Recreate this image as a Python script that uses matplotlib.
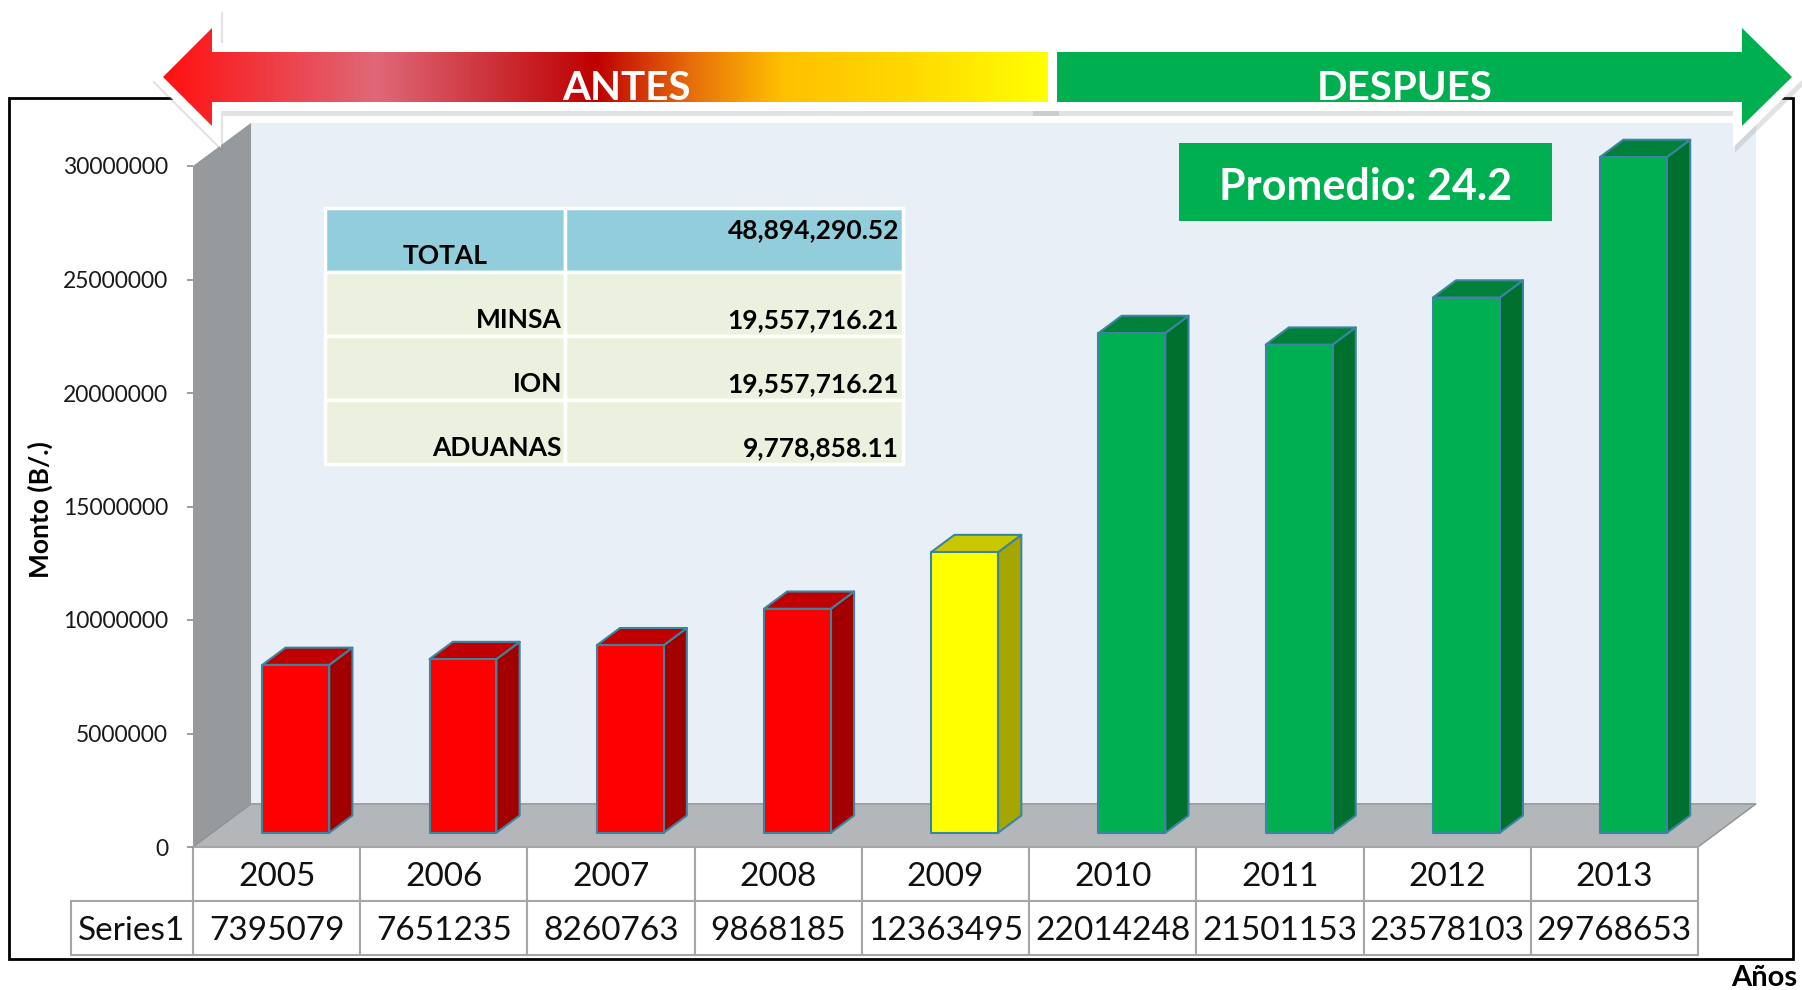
import matplotlib
matplotlib.use('Agg')
import matplotlib.pyplot as plt
import matplotlib.patches as mpatches
import matplotlib.transforms as mtransforms
from matplotlib.colors import LinearSegmentedColormap
from matplotlib.ticker import MultipleLocator, FuncFormatter
import numpy as np

plt.rcParams['font.family'] = ['Lato', 'DejaVu Sans']

# datos
years = [2005, 2006, 2007, 2008, 2009, 2010, 2011, 2012, 2013]
montos = [7395079, 7651235, 8260763, 9868185, 12363495,
          22014248, 21501153, 23578103, 29768653]
periodo = ['antes'] * 4 + ['transicion'] + ['despues'] * 4
serie_nombre = 'Series1'
resumen_labels = ['TOTAL', 'MINSA', 'ION', 'ADUANAS']
resumen_values = [48894290.52, 19557716.21, 19557716.21, 9778858.11]
promedio = 24.2

# estilos
BAR_COLORS = {
    'antes': ('#FF0000', '#C00000', '#A20000'),
    'transicion': ('#FFFF00', '#C8C800', '#A6A600'),
    'despues': ('#00B050', '#008039', '#00702E'),
}
BAR_EDGE = '#3A86A0'
W, H = 1802, 990
DX, DY = 0.347, 1.9e6      # profundidad del piso en unidades de datos
BW = 0.4                   # ancho de barra
Z0, ZD = 0.33, 0.4         # posicion/profundidad de las barras en el piso

fig = plt.figure(figsize=(W / 100, H / 100), dpi=100)

# ejes principales = plano frontal del grafico 3D
ax_l, ax_r, ax_t, ax_b = 193, 1698, 166, 847
ax = fig.add_axes([ax_l / W, 1 - ax_b / H, (ax_r - ax_l) / W, (ax_b - ax_t) / H], zorder=1)
n = len(years)
ymax = 30e6
ax.set_xlim(-0.5, n - 0.5)
ax.set_ylim(0, ymax)
ax.patch.set_visible(False)
for s in ax.spines.values():
    s.set_visible(False)
ax.set_xticks([])
ax.yaxis.set_major_locator(MultipleLocator(5e6))
ax.yaxis.set_major_formatter(FuncFormatter(lambda v, p: f'{int(v)}'))
ax.tick_params(axis='y', length=4.3, width=1.2, color='#8c8c8c', pad=13.5,
               labelsize=16.5, labelcolor='#1a1a1a')

# pared del fondo, pared izquierda y piso
ax.add_patch(mpatches.Rectangle((-0.5 + DX, DY), n, ymax, fc='#E9EFF7', ec='none',
                                clip_on=False, zorder=0))
ax.add_patch(mpatches.Polygon([(-0.5, 0), (-0.5, ymax), (-0.5 + DX, ymax + DY), (-0.5 + DX, DY)],
                              closed=True, fc='#969A9D', ec='none', clip_on=False, zorder=0.5))
ax.add_patch(mpatches.Polygon([(-0.5, 0), (n - 0.5, 0), (n - 0.5 + DX, DY), (-0.5 + DX, DY)],
                              closed=True, fc='#B3B7BA', ec='#8f9294', lw=1, clip_on=False, zorder=0.6))

# barras 3D
bdx, bdy = ZD * DX, ZD * DY
for i, (v, p) in enumerate(zip(montos, periodo)):
    front, top, side = BAR_COLORS[p]
    x0 = i - BW / 2 + Z0 * DX
    y0 = Z0 * DY
    kw = dict(ec=BAR_EDGE, lw=1.5, clip_on=False, zorder=2, joinstyle='round')
    ax.add_patch(mpatches.Polygon([(x0 + BW, y0), (x0 + BW, y0 + v), (x0 + BW + bdx, y0 + v + bdy),
                                   (x0 + BW + bdx, y0 + bdy)], closed=True, fc=side, **kw))
    ax.add_patch(mpatches.Polygon([(x0, y0 + v), (x0 + BW, y0 + v), (x0 + BW + bdx, y0 + v + bdy),
                                   (x0 + bdx, y0 + v + bdy)], closed=True, fc=top, **kw))
    ax.add_patch(mpatches.Rectangle((x0, y0), BW, v, fc=front, **kw))

# tabla de datos bajo el grafico
trans = mtransforms.blended_transform_factory(ax.transData, ax.transAxes)
def ay(py):
    return (ax_b - py) / (ax_b - ax_t)

row1, row2, row3 = 847, 901, 955
label_x0 = -0.5 - (ax_l - 71) / ((ax_r - ax_l) / n)
cell_kw = dict(fc='white', ec='#A6A6A6', lw=1.5, transform=trans, clip_on=False, zorder=1)
for i, (yr, v) in enumerate(zip(years, montos)):
    ax.add_patch(mpatches.Rectangle((i - 0.5, ay(row2)), 1, ay(row1) - ay(row2), **cell_kw))
    ax.add_patch(mpatches.Rectangle((i - 0.5, ay(row3)), 1, ay(row2) - ay(row3), **cell_kw))
    ax.text(i, ay((row1 + row2) / 2), str(yr), transform=trans, ha='center',
            va='center_baseline', fontsize=24, color='#111111')
    ax.text(i, ay((row2 + row3) / 2), str(v), transform=trans, ha='center',
            va='center_baseline', fontsize=24, color='#111111')
ax.add_patch(mpatches.Rectangle((label_x0, ay(row3)), -0.5 - label_x0, ay(row2) - ay(row3), **cell_kw))
ax.text((label_x0 - 0.5) / 2, ay((row2 + row3) / 2), serie_nombre, transform=trans,
        ha='center', va='center_baseline', fontsize=24, color='#111111')

# capa superior en pixeles para adornos
ov = fig.add_axes([0, 0, 1, 1], zorder=5)
ov.set_xlim(0, W)
ov.set_ylim(H, 0)
ov.axis('off')

# marco exterior
ov.add_patch(mpatches.Rectangle((9, 98), 1784, 861, fill=False, ec='black', lw=2, zorder=1))

# flechas ANTES / DESPUES
left_pts = [(163, 77), (212, 28), (212, 52), (1048, 52), (1048, 102), (212, 102), (212, 126)]
right_pts = [(1040, 52), (1742, 52), (1742, 28), (1792, 77), (1742, 126), (1742, 102), (1040, 102)]
for pts in (right_pts, left_pts):
    shadow = [(x + 2, y + 5) for x, y in pts]
    ov.add_patch(mpatches.Polygon(shadow, closed=True, fc='#7f7f7f', ec='#7f7f7f', lw=13,
                                  alpha=0.22, joinstyle='miter', zorder=2))
ov.add_patch(mpatches.Polygon(right_pts, closed=True, fc='white', ec='white', lw=13,
                              joinstyle='miter', zorder=3))
ov.add_patch(mpatches.Polygon(right_pts, closed=True, fc='#00B050', ec='none', zorder=4))
ov.add_patch(mpatches.Polygon(left_pts, closed=True, fc='white', ec='white', lw=13,
                              joinstyle='miter', zorder=5))
left_fill = mpatches.Polygon(left_pts, closed=True, fc='none', ec='none', zorder=6)
ov.add_patch(left_fill)
grad_cmap = LinearSegmentedColormap.from_list('antes', [
    (0.0, '#FF1010'), (0.24, '#DF6878'), (0.49, '#BE0000'), (0.6, '#E8700C'),
    (0.7, '#FFC000'), (0.84, '#FFD800'), (1.0, '#FFFF00')])
grad = np.linspace(0, 1, 512).reshape(1, -1)
im = ov.imshow(grad, cmap=grad_cmap, extent=(163, 1048, 126, 28), aspect='auto', zorder=6)
im.set_clip_path(left_fill)

ov.text(626, 100, 'ANTES', ha='center', va='baseline', fontsize=29, fontweight='bold',
        color='white', zorder=7)
ov.text(1405, 100, 'DESPUES', ha='center', va='baseline', fontsize=29, fontweight='bold',
        color='white', zorder=7)

# recuadro promedio
ov.add_patch(mpatches.Rectangle((1179, 143), 373, 78, fc='#00B050', ec='none', zorder=3))
ov.text(1366, 183, f'Promedio: {promedio}', ha='center', va='center_baseline', fontsize=31,
        fontweight='bold', color='white', zorder=4)

# tabla resumen
col_edges = [325, 565, 903]
row_edges = [208, 272, 336, 400, 464]
for r, (lab, val) in enumerate(zip(resumen_labels, resumen_values)):
    fc = '#92CDDC' if r == 0 else '#EBF1DE'
    for c in range(2):
        ov.add_patch(mpatches.Rectangle((col_edges[c], row_edges[r]), col_edges[c + 1] - col_edges[c],
                                        row_edges[r + 1] - row_edges[r], fc=fc, ec='white',
                                        lw=2.5, zorder=3))
    txt = f'{val:,.2f}'
    if r == 0:
        ov.text((col_edges[0] + col_edges[1]) / 2, row_edges[1] - 8, lab, ha='center',
                va='baseline', fontsize=19, fontweight='bold', zorder=4)
        ov.text(col_edges[2] - 4, row_edges[0] + 30, txt, ha='right', va='baseline',
                fontsize=19, fontweight='bold', zorder=4)
    else:
        ov.text(col_edges[1] - 3, row_edges[r + 1] - 8, lab, ha='right', va='baseline',
                fontsize=19, fontweight='bold', zorder=4)
        ov.text(col_edges[2] - 4, row_edges[r + 1] - 8, txt, ha='right', va='baseline',
                fontsize=19, fontweight='bold', zorder=4)

# titulos de ejes
ov.text(40, 510, 'Monto (B/.)', rotation=90, ha='center', va='center', fontsize=19,
        fontweight='bold', zorder=4)
ov.text(1797, 986, 'Años', ha='right', va='baseline', fontsize=21, fontweight='bold', zorder=4)

fig.savefig('out.png', dpi=100)
